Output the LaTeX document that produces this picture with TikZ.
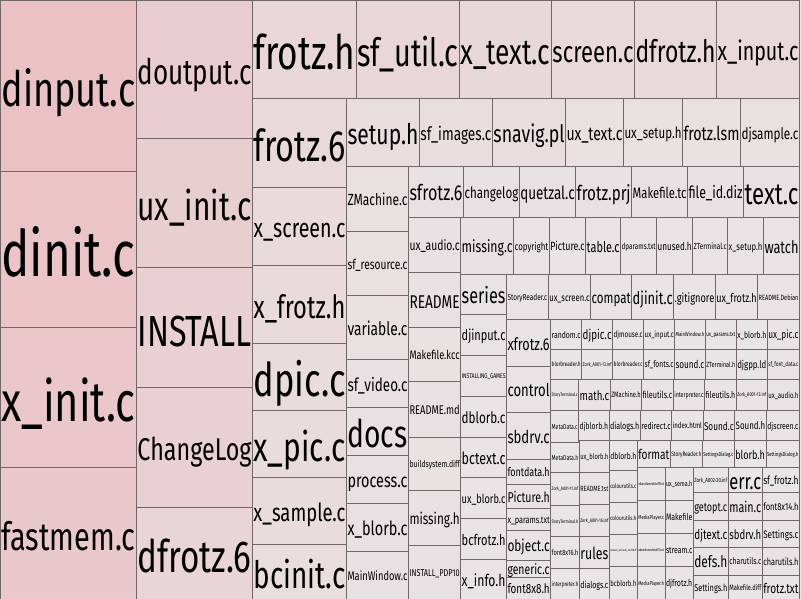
\documentclass[tikz,border=0pt]{standalone}
\usepackage{fontspec}
\setmainfont{Fira Sans}
\definecolor{pinkA}{HTML}{EAC0C3}
\definecolor{pale}{HTML}{E8E6E7}
\definecolor{lc}{HTML}{716768}
\newcounter{cellno}
\tikzset{
  cellbox/.style={draw=lc, line width=0.9pt},
  lab/.style={anchor=center, inner sep=0pt, outer sep=0pt, text=black, font=\normalfont\normalsize, yscale=1.35}
}
\newcommand\cell[5]{%
  \stepcounter{cellno}%
  \pgfmathtruncatemacro\pk{min(100,((#3-#1)/10)*((#4-#2)/10)/2.35)}%
  \filldraw[cellbox, fill=pinkA!\pk!pale] (#1,#2) rectangle (#3,#4);
  \pgfmathsetmacro\wl{#3-#1-2}%
  \pgfmathsetmacro\cx{(#1+#3)/2}%
  \pgfmathsetmacro\cy{(#2+#4)/2}%
  \node[lab] (c\arabic{cellno}) at (\cx,\cy) {\resizebox{\wl pt}{!}{\rule[-3.46pt]{0pt}{15.46pt}#5}};
}
\begin{document}
\begin{tikzpicture}[x=1pt,y=-1pt]
\useasboundingbox (0,0) rectangle (801,599);
\fill[pale] (0,0) rectangle (801,599);
% column 1
\cell{0.5}{0.5}{136.5}{171.5}{dinput.c}
\cell{0.5}{171.5}{136.5}{327.5}{dinit.c}
\cell{0.5}{327.5}{136.5}{467.5}{x\_init.c}
\cell{0.5}{467.5}{136.5}{599.5}{fastmem.c}
% column 2
\cell{136.5}{0.5}{252.5}{138.5}{doutput.c}
\cell{136.5}{138.5}{252.5}{267.5}{ux\_init.c}
\cell{136.5}{267.5}{252.5}{387.5}{INSTALL}
\cell{136.5}{387.5}{252.5}{507.5}{ChangeLog}
\cell{136.5}{507.5}{252.5}{599.5}{dfrotz.6}
% top row
\cell{252.5}{0.5}{356.5}{98.5}{frotz.h}
\cell{356.5}{0.5}{459.5}{98.5}{sf\_util.c}
\cell{459.5}{0.5}{551.5}{98.5}{x\_text.c}
\cell{551.5}{0.5}{634.5}{98.5}{screen.c}
\cell{634.5}{0.5}{716.5}{98.5}{dfrotz.h}
\cell{716.5}{0.5}{799.5}{98.5}{x\_input.c}
% column 3
\cell{252.5}{98.5}{346.5}{187.5}{frotz.6}
\cell{252.5}{187.5}{346.5}{265.5}{x\_screen.c}
\cell{252.5}{265.5}{346.5}{343.5}{x\_frotz.h}
\cell{252.5}{343.5}{346.5}{410.5}{dpic.c}
\cell{252.5}{410.5}{346.5}{477.5}{x\_pic.c}
\cell{252.5}{477.5}{346.5}{544.5}{x\_sample.c}
\cell{252.5}{544.5}{346.5}{599.5}{bcinit.c}
% row 2
\cell{346.5}{98.5}{419.5}{166}{setup.h}
\cell{419.5}{98.5}{492.5}{166}{sf\_images.c}
\cell{492.5}{98.5}{565.5}{166}{snavig.pl}
\cell{565.5}{98.5}{623.5}{166}{ux\_text.c}
\cell{623.5}{98.5}{682.5}{166}{ux\_setup.h}
\cell{682.5}{98.5}{740.5}{166}{frotz.lsm}
\cell{740.5}{98.5}{799.5}{166}{djsample.c}
% column 346-408
\cell{346.5}{166}{408.5}{231}{ZMachine.c}
\cell{346.5}{231}{408.5}{295.5}{sf\_resource.c}
\cell{346.5}{295.5}{408.5}{359.5}{variable.c}
\cell{346.5}{359.5}{408.5}{407.5}{sf\_video.c}
\cell{346.5}{407.5}{408.5}{455.5}{docs}
\cell{346.5}{455.5}{408.5}{503.5}{process.c}
\cell{346.5}{503.5}{408.5}{551.5}{x\_blorb.c}
\cell{346.5}{551.5}{408.5}{599.5}{MainWindow.c}
% row 3
\cell{408.5}{166}{463.5}{217.3}{sfrotz.6}
\cell{463.5}{166}{519.3}{217.3}{changelog}
\cell{519.3}{166}{575.7}{217.3}{quetzal.c}
\cell{575.7}{166}{631.7}{217.3}{frotz.prj}
\cell{631.7}{166}{687.5}{217.3}{Makefile.tc}
\cell{687.5}{166}{743.5}{217.3}{file\_id.diz}
\cell{743.5}{166}{799.5}{217.3}{text.c}
% column 408-461
\cell{408.5}{217.3}{460.7}{272.7}{ux\_audio.c}
\cell{408.5}{272.7}{460.7}{327.7}{README}
\cell{408.5}{327.7}{460.7}{381.3}{Makefile.kcc}
\cell{408.5}{381.3}{460.7}{437}{README.md}
\cell{408.5}{437}{460.7}{490.3}{buildsystem.diff}
\cell{408.5}{490.3}{460.7}{545.3}{missing.h}
\cell{408.5}{545.3}{460.7}{599.5}{INSTALL\_PDP10}
% row 4
\cell{460.7}{217.3}{513.7}{274.3}{missing.c}
\cell{513.7}{217.3}{549.3}{274.3}{copyright}
\cell{549.3}{217.3}{585.7}{274.3}{Picture.c}
\cell{585.7}{217.3}{620.7}{274.3}{table.c}
\cell{620.7}{217.3}{656.7}{274.3}{dparams.txt}
\cell{656.7}{217.3}{692.7}{274.3}{unused.h}
\cell{692.7}{217.3}{727.7}{274.3}{ZTerminal.c}
\cell{727.7}{217.3}{763.5}{274.3}{x\_setup.h}
\cell{763.5}{217.3}{799.5}{274.3}{watch}
% column 461-506
\cell{460.7}{274.3}{506.5}{314.3}{series}
\cell{460.7}{314.3}{506.5}{355}{djinput.c}
\cell{460.7}{355}{506.5}{396.3}{INSTALLING\_GAMES}
\cell{460.7}{396.3}{506.5}{437.3}{dblorb.c}
\cell{460.7}{437.3}{506.5}{477.7}{bctext.c}
\cell{460.7}{477.7}{506.5}{518.3}{ux\_blorb.c}
\cell{460.7}{518.3}{506.5}{559.3}{bcfrotz.h}
\cell{460.7}{559.3}{506.5}{599.5}{x\_info.h}
% row 5
\cell{506.5}{274.3}{548.3}{319.3}{StoryReader.c}
\cell{548.3}{274.3}{590.7}{319.3}{ux\_screen.c}
\cell{590.7}{274.3}{631.7}{319.3}{compat}
\cell{631.7}{274.3}{673.7}{319.3}{djinit.c}
\cell{673.7}{274.3}{715.3}{319.3}{.gitignore}
\cell{715.3}{274.3}{757.7}{319.3}{ux\_frotz.h}
\cell{757.7}{274.3}{799.5}{319.3}{README.Debian}
% column 506-551
\cell{506.5}{319.3}{550.7}{366.5}{xfrotz.6}
\cell{506.5}{366.5}{550.7}{412}{control}
\cell{506.5}{412}{550.7}{459.3}{sbdrv.c}
\cell{506.5}{459.3}{550.7}{484}{fontdata.h}
\cell{506.5}{484}{550.7}{508.3}{Picture.h}
\cell{506.5}{508.3}{550.7}{530}{x\_params.txt}
\cell{506.5}{530}{550.7}{560}{object.c}
\cell{506.5}{560}{550.7}{577}{generic.c}
\cell{506.5}{577}{550.7}{599.5}{font8x8.h}
% row 6
\cell{550.7}{319.3}{581.7}{349}{random.c}
\cell{581.7}{319.3}{612.7}{349}{djpic.c}
\cell{612.7}{319.3}{643.7}{349}{djmouse.c}
\cell{643.7}{319.3}{674.7}{349}{ux\_input.c}
\cell{674.7}{319.3}{705.3}{349}{MainWindow.h}
\cell{705.3}{319.3}{736.3}{349}{ux\_params.txt}
\cell{736.3}{319.3}{767.3}{349}{x\_blorb.h}
\cell{767.3}{319.3}{799.5}{349}{ux\_pic.c}
% row 7
\cell{550.7}{349}{581.7}{379}{blorbreader.h}
\cell{581.7}{349}{612.7}{379}{Zork\_A001-13.inf}
\cell{612.7}{349}{643.7}{379}{blorbreader.c}
\cell{643.7}{349}{674.7}{379}{sf\_fonts.c}
\cell{674.7}{349}{705.3}{379}{sound.c}
\cell{705.3}{349}{736.3}{379}{ZTerminal.h}
\cell{736.3}{349}{767.3}{379}{djgpp.ld}
\cell{767.3}{349}{799.5}{379}{sf\_font\_data.c}
% row 8
\cell{550.7}{379}{578.7}{410.3}{StoryTerminal.c}
\cell{578.7}{379}{610.3}{410.3}{math.c}
\cell{610.3}{379}{641.7}{410.3}{ZMachine.h}
\cell{641.7}{379}{673.3}{410.3}{fileutils.c}
\cell{673.3}{379}{704.7}{410.3}{interpreter.c}
\cell{704.7}{379}{736.3}{410.3}{fileutils.h}
\cell{736.3}{379}{767.3}{410.3}{Zork\_A001-13.inf}
\cell{767.3}{379}{799.5}{410.3}{ux\_audio.h}
% row 9
\cell{550.7}{410.3}{578.7}{442}{MetaData.c}
\cell{578.7}{410.3}{609}{440.3}{djblorb.h}
\cell{609}{410.3}{640.3}{440.3}{dialogs.h}
\cell{640.3}{410.3}{671.7}{440.3}{redirect.c}
\cell{671.7}{410.3}{703}{440.3}{index.html}
\cell{703}{410.3}{734.7}{440.3}{Sound.c}
\cell{734.7}{410.3}{766.3}{440.3}{Sound.h}
\cell{766.3}{410.3}{799.5}{440.3}{djscreen.c}
% col A
\cell{550.7}{442}{579.3}{472.3}{MetaData.h}
\cell{550.7}{472.3}{579.3}{505}{Zork\_A001-11.inf}
\cell{550.7}{505}{579.3}{536.7}{StoryTerminal.h}
\cell{550.7}{536.7}{579.3}{568.3}{font8x16.h}
\cell{550.7}{568.3}{579.3}{599.5}{interpreter.h}
% col B
\cell{579.3}{440.3}{609.3}{472.3}{ux\_blorb.h}
\cell{579.3}{472.3}{609.3}{504}{README.1st}
\cell{579.3}{504}{609.3}{536}{Zork\_A001-16.inf}
\cell{579.3}{536}{609.3}{568.5}{rules}
\cell{579.3}{568.5}{609.3}{599.5}{dialogs.c}
% col C
\cell{609.3}{440.3}{637.3}{470.5}{dblorb.h}
\cell{609.3}{470.5}{637.3}{502}{colourutils.c}
\cell{609.3}{502}{637.3}{534.5}{colourutils.h}
\cell{609.3}{534.5}{637.3}{566}{remove\_unicode\_stuff.diff}
\cell{609.3}{566}{637.3}{599.5}{bcblorb.h}
% row 10 D-G
\cell{637.3}{440.3}{670.3}{467.3}{format}
\cell{670.3}{440.3}{702.3}{467.3}{StoryReader.h}
\cell{702.3}{440.3}{734.3}{467.3}{SettingsDialog.c}
\cell{734.3}{440.3}{766}{467.3}{blorb.h}
\cell{766}{440.3}{799.5}{467.3}{SettingsDialog.h}
% col D1
\cell{637.3}{467.3}{665}{500.3}{abandonedstuff.txt}
\cell{637.3}{500.3}{665}{533.5}{MediaPlayer.c}
\cell{637.3}{533.5}{665}{566}{abandonedstuff2.txt}
\cell{637.3}{566}{665}{599.5}{MediaPlayer.h}
% col D2
\cell{665}{467.3}{693.3}{500.3}{ux\_sema.h}
\cell{665}{500.3}{693.3}{533.5}{Makefile}
\cell{665}{533.5}{693.3}{566}{stream.c}
\cell{665}{566}{693.3}{599.5}{djfrotz.h}
% col E
\cell{693.3}{467.3}{728.3}{492}{Zork\_A002-20.inf}
\cell{693.3}{492}{728.3}{520.5}{getopt.c}
\cell{693.3}{520.5}{728.3}{547}{djtext.c}
\cell{693.3}{547}{728.3}{575}{defs.h}
\cell{693.3}{575}{728.3}{599.5}{Settings.h}
% col F
\cell{728.3}{467.3}{762.3}{492}{err.c}
\cell{728.3}{492}{762.3}{520.5}{main.c}
\cell{728.3}{520.5}{762.3}{547}{sbdrv.h}
\cell{728.3}{547}{762.3}{575}{charutils.c}
\cell{728.3}{575}{762.3}{599.5}{Makefile.diff}
% col G
\cell{762.3}{467.3}{799.5}{492}{sf\_frotz.h}
\cell{762.3}{492}{799.5}{520.5}{font8x14.h}
\cell{762.3}{520.5}{799.5}{547}{Settings.c}
\cell{762.3}{547}{799.5}{575}{charutils.h}
\cell{762.3}{575}{799.5}{599.5}{frotz.txt}
\end{tikzpicture}
\end{document}
